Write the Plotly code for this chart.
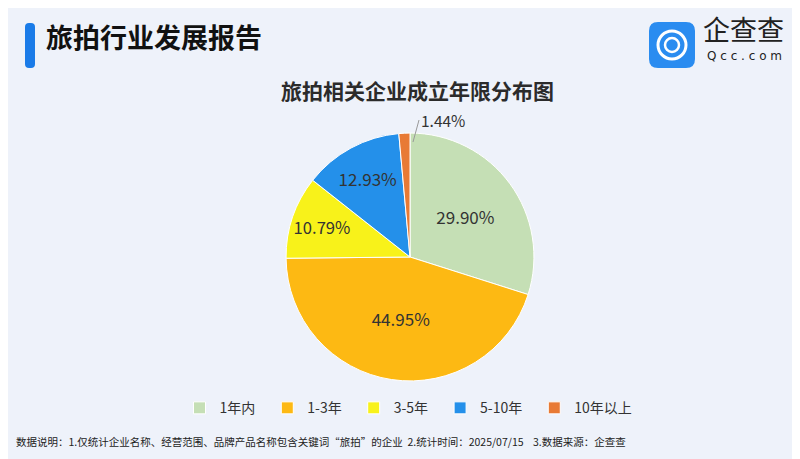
import plotly.graph_objects as go

categories = ["1年内", "1-3年", "3-5年", "5-10年", "10年以上"]
shares = [29.90, 44.95, 10.79, 12.93, 1.44]
colors = ["#c5dfb5", "#fdb913", "#f8f21a", "#2490ea", "#e87a35"]
label_pos = ["inside", "inside", "inside", "inside", "none"]

title_main = "旅拍行业发展报告"
chart_title = "旅拍相关企业成立年限分布图"
footnote = "数据说明：1.仅统计企业名称、经营范围、品牌产品名称包含关键词“旅拍”的企业  2.统计时间：2025/07/15    3.数据来源：企查查"

FONT = "Noto Sans CJK SC"
DY = 8  # vertical correction for CJK line box
W, H = 800, 459
PAD = "\u2002"  # spacing after each legend entry

def py(y):
    return 1 - (y - DY) / H

def rounded_rect(x0, y0, x1, y1, r):
    X = lambda v: v / W
    Y = lambda v: 1 - v / H
    return (f"M {X(x0+r)},{Y(y0)} L {X(x1-r)},{Y(y0)} Q {X(x1)},{Y(y0)} {X(x1)},{Y(y0+r)} "
            f"L {X(x1)},{Y(y1-r)} Q {X(x1)},{Y(y1)} {X(x1-r)},{Y(y1)} "
            f"L {X(x0+r)},{Y(y1)} Q {X(x0)},{Y(y1)} {X(x0)},{Y(y1-r)} "
            f"L {X(x0)},{Y(y0+r)} Q {X(x0)},{Y(y0)} {X(x0+r)},{Y(y0)} Z")

fig = go.Figure()
fig.add_trace(go.Pie(
    labels=[c + PAD for c in categories],
    values=shares,
    text=[f"{v:.2f}%" for v in shares],
    texttemplate="%{text}",
    textposition=label_pos,
    textfont=dict(family=FONT, size=17, color="#333333"),
    insidetextorientation="horizontal",
    marker=dict(colors=colors, line=dict(color="#ffffff", width=1)),
    sort=False,
    direction="clockwise",
    rotation=0,
    hole=0,
    domain=dict(x=[0.3475, 0.6575], y=[0.1875, 0.7275]),
    showlegend=True,
    hoverinfo="label+percent",
))

fig.update_layout(
    width=W, height=H,
    margin=dict(l=0, r=0, t=0, b=0),
    paper_bgcolor="#eef2fa",
    plot_bgcolor="#eef2fa",
    font=dict(family=FONT, color="#333333"),
    legend=dict(
        orientation="h",
        x=0.505, xanchor="center",
        y=0.128, yanchor="middle",
        font=dict(family=FONT, size=14, color="#333333"),
        itemwidth=30,
        bgcolor="rgba(0,0,0,0)",
        traceorder="normal",
    ),
    shapes=[
        dict(type="path", xref="paper", yref="paper",
             path=rounded_rect(17, 15, 27, 60, 4),
             fillcolor="#1a7be8", line=dict(width=0), layer="above"),
        dict(type="path", xref="paper", yref="paper",
             path=rounded_rect(641, 14, 687, 60, 9),
             fillcolor="#2a8cf0", line=dict(width=0), layer="above"),
        dict(type="circle", xref="paper", yref="paper",
             x0=650/W, x1=678/W, y0=1-51/H, y1=1-23/H,
             line=dict(color="white", width=3), layer="above"),
        dict(type="circle", xref="paper", yref="paper",
             x0=657/W, x1=671/W, y0=1-44/H, y1=1-30/H,
             line=dict(color="white", width=2.5), layer="above"),
        dict(type="line", xref="paper", yref="paper",
             x0=0, x1=1, y0=2/H, y1=2/H,
             line=dict(color="#9aa0a8", width=3)),
    ],
    annotations=[
        dict(text=f"<b>{title_main}</b>", xref="paper", yref="paper",
             x=36/W, y=py(37), xanchor="left", yanchor="middle",
             showarrow=False, font=dict(family=FONT, size=27, color="#111111")),
        dict(text=f"<b>{chart_title}</b>", xref="paper", yref="paper",
             x=410/W, y=py(90), xanchor="center", yanchor="middle",
             showarrow=False, font=dict(family=FONT, size=21, color="#2b2b2b")),
        dict(text="企查查", xref="paper", yref="paper",
             x=693/W, y=py(29), xanchor="left", yanchor="middle",
             showarrow=False, font=dict(family=FONT, size=27, color="#222222")),
        dict(text="Q c c . c o m", xref="paper", yref="paper",
             x=697/W, y=py(56), xanchor="left", yanchor="middle",
             showarrow=False, font=dict(family="DejaVu Sans", size=12, color="#222222")),
        dict(text=f"{shares[4]:.2f}%", xref="paper", yref="paper",
             x=405/W, y=1-134/H, xanchor="left", yanchor="middle",
             ax=6, ay=-22, showarrow=True, arrowhead=0, arrowwidth=1,
             arrowcolor="#999999", standoff=0, startstandoff=0,
             font=dict(family=FONT, size=15.5, color="#333333")),
        dict(text=footnote, xref="paper", yref="paper",
             x=6/W, y=py(441), xanchor="left", yanchor="middle",
             showarrow=False, font=dict(family=FONT, size=10.5, color="#222222")),
    ],
)

fig.write_html("out.html")
